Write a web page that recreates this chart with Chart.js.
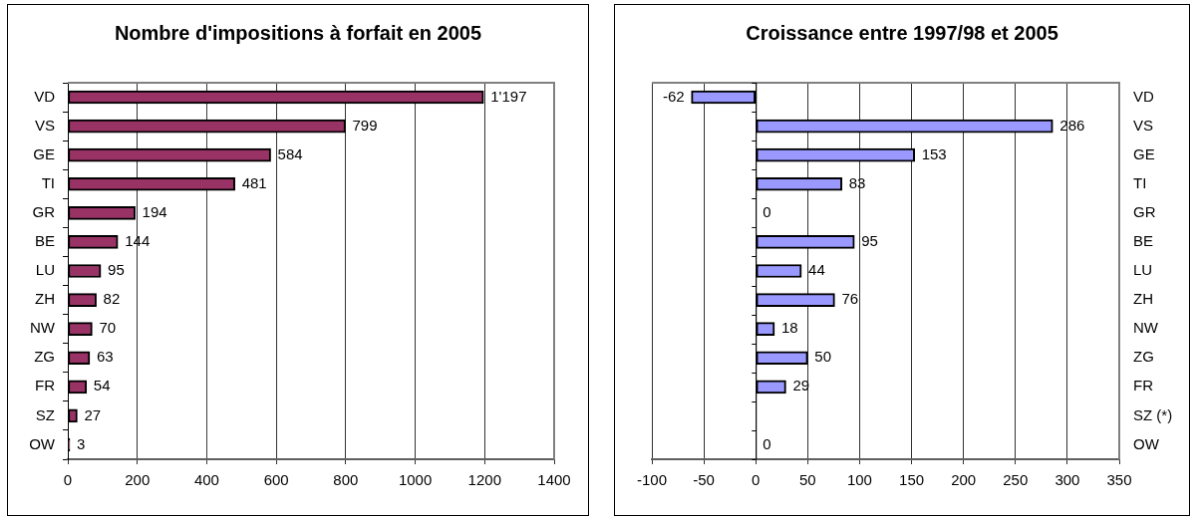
<!DOCTYPE html>
<html>
<head>
<meta charset="utf-8">
<script src="https://cdn.jsdelivr.net/npm/chart.js@4/dist/chart.umd.min.js"></script>
<style>
  body { margin: 0; background: #fff; width: 1191px; height: 518px; overflow: hidden; position: relative; }
  canvas { position: absolute; border: 1px solid #000; }
  #chartLeft { left: 7px; top: 4px; }
  #chartRight { left: 614px; top: 4px; }
</style>
</head>
<body>
<canvas id="chartLeft" width="582" height="512"></canvas>
<canvas id="chartRight" width="576" height="512"></canvas>
<script>
const cantons = ["VD", "VS", "GE", "TI", "GR", "BE", "LU", "ZH", "NW", "ZG", "FR", "SZ", "OW"];
const cantonsRight = ["VD", "VS", "GE", "TI", "GR", "BE", "LU", "ZH", "NW", "ZG", "FR", "SZ (*)", "OW"];
const impositions2005 = [1197, 799, 584, 481, 194, 144, 95, 82, 70, 63, 54, 27, 3];
const croissance = [-62, 286, 153, 83, 0, 95, 44, 76, 18, 50, 29, null, 0];
const leftTicks = [0, 200, 400, 600, 800, 1000, 1200, 1400];
const rightTicks = [-100, -50, 0, 50, 100, 150, 200, 250, 300, 350];

Chart.defaults.font.family = "'Liberation Sans', Arial, sans-serif";
Chart.defaults.font.size = 15;
Chart.defaults.color = "#000";

// Formato con apostrofe para los miles
function formatNumber(v) {
  return String(v).replace(/\B(?=(\d{3})+(?!\d))/g, "'");
}

// Etiquetas de valor al final de cada barra
const valueLabels = {
  id: "valueLabels",
  afterDatasetsDraw(chart) {
    const ctx = chart.ctx;
    const meta = chart.getDatasetMeta(0);
    const values = chart.data.datasets[0].data;
    ctx.save();
    ctx.font = "15px 'Liberation Sans', Arial, sans-serif";
    ctx.fillStyle = "#000";
    ctx.textBaseline = "middle";
    meta.data.forEach((bar, i) => {
      const v = values[i];
      if (v === null) return;
      if (v < 0) {
        ctx.textAlign = "right";
        ctx.fillText(formatNumber(v), bar.x - 7, bar.y);
      } else {
        ctx.textAlign = "left";
        ctx.fillText(formatNumber(v), Math.max(bar.x, bar.base) + 7, bar.y);
      }
    });
    ctx.restore();
  },
};

// Borde gris del area del grafico
const plotFrame = {
  id: "plotFrame",
  beforeDatasetsDraw(chart) {
    const a = chart.chartArea;
    const ctx = chart.ctx;
    ctx.save();
    ctx.strokeStyle = "#808080";
    ctx.lineWidth = 2;
    ctx.beginPath();
    ctx.moveTo(a.left, a.top);
    ctx.lineTo(a.right, a.top);
    ctx.lineTo(a.right, a.bottom);
    ctx.stroke();
    ctx.restore();
  },
};

// Eje vertical en cero con marcas entre categorias
const zeroAxis = {
  id: "zeroAxis",
  afterDatasetsDraw(chart) {
    const a = chart.chartArea;
    const x0 = chart.scales.x.getPixelForValue(0);
    const y = chart.scales.y;
    const step = (a.bottom - a.top) / chart.data.labels.length;
    const ctx = chart.ctx;
    ctx.save();
    ctx.strokeStyle = "#000";
    ctx.lineWidth = 1;
    ctx.beginPath();
    ctx.moveTo(x0 + 0.5, a.top);
    ctx.lineTo(x0 + 0.5, a.bottom);
    for (let i = 0; i <= chart.data.labels.length; i++) {
      const yy = Math.round(y.top + i * step) + 0.5;
      ctx.moveTo(x0 - 4, yy);
      ctx.lineTo(x0 + 0.5, yy);
    }
    ctx.stroke();
    ctx.restore();
  },
};

function titleOptions(text) {
  return {
    display: true,
    text: text,
    color: "#000",
    font: { size: 20, weight: "bold" },
    padding: { top: 17, bottom: 37 },
  };
}

function xScale(min, max, tickList) {
  return {
    min: min,
    max: max,
    afterBuildTicks: (axis) => { axis.ticks = tickList.map((v) => ({ value: v })); },
    afterFit: (axis) => { axis.height = 56; },
    ticks: { padding: 8, maxRotation: 0, callback: (v) => String(v) },
    grid: { color: "#333", tickColor: "#333", tickLength: 5, lineWidth: 1 },
    border: { color: "#606060", width: 2 },
  };
}

// Eje vacio solo para reservar espacio a un lado
function spacer(position, size) {
  return {
    type: "category",
    position: position,
    afterFit: (axis) => { axis.width = size; },
    ticks: { display: false },
    grid: { display: false, drawTicks: false },
    border: { display: false },
  };
}

function generateLeft() {
  const ctx = document.getElementById("chartLeft").getContext("2d");
  new Chart(ctx, {
    type: "bar",
    data: {
      labels: cantons,
      datasets: [
        {
          data: impositions2005,
          backgroundColor: "#993366",
          borderColor: "#000",
          borderWidth: 2,
          borderSkipped: false,
          barThickness: 13,
          minBarLength: 2,
        },
      ],
    },
    options: {
      indexAxis: "y",
      responsive: false,
      animation: false,
      layout: { padding: 0 },
      plugins: {
        legend: { display: false },
        tooltip: { enabled: false },
        title: titleOptions("Nombre d'impositions à forfait en 2005"),
      },
      scales: {
        x: xScale(0, 1400, leftTicks),
        y: {
          afterFit: (axis) => { axis.width = 60; },
          ticks: { padding: 8 },
          grid: { offset: true, drawOnChartArea: false, tickLength: 5, tickColor: "#000" },
          border: { color: "#000", width: 1 },
        },
        yPad: spacer("right", 34),
      },
    },
    plugins: [plotFrame, valueLabels],
  });
}

function generateRight() {
  const ctx = document.getElementById("chartRight").getContext("2d");
  new Chart(ctx, {
    type: "bar",
    data: {
      labels: cantonsRight,
      datasets: [
        {
          data: croissance,
          backgroundColor: "#9999FF",
          borderColor: "#000",
          borderWidth: 2,
          borderSkipped: false,
          barThickness: 13,
        },
      ],
    },
    options: {
      indexAxis: "y",
      responsive: false,
      animation: false,
      layout: { padding: 0 },
      plugins: {
        legend: { display: false },
        tooltip: { enabled: false },
        title: titleOptions("Croissance entre 1997/98 et 2005"),
      },
      scales: {
        x: xScale(-100, 350, rightTicks),
        y: {
          position: "right",
          afterFit: (axis) => { axis.width = 70; },
          ticks: { padding: 14 },
          grid: { display: false, drawTicks: false },
          border: { display: false },
        },
        yPad: spacer("left", 37),
      },
    },
    plugins: [plotFrame, zeroAxis, valueLabels],
  });
}

generateLeft();
generateRight();
</script>
</body>
</html>
